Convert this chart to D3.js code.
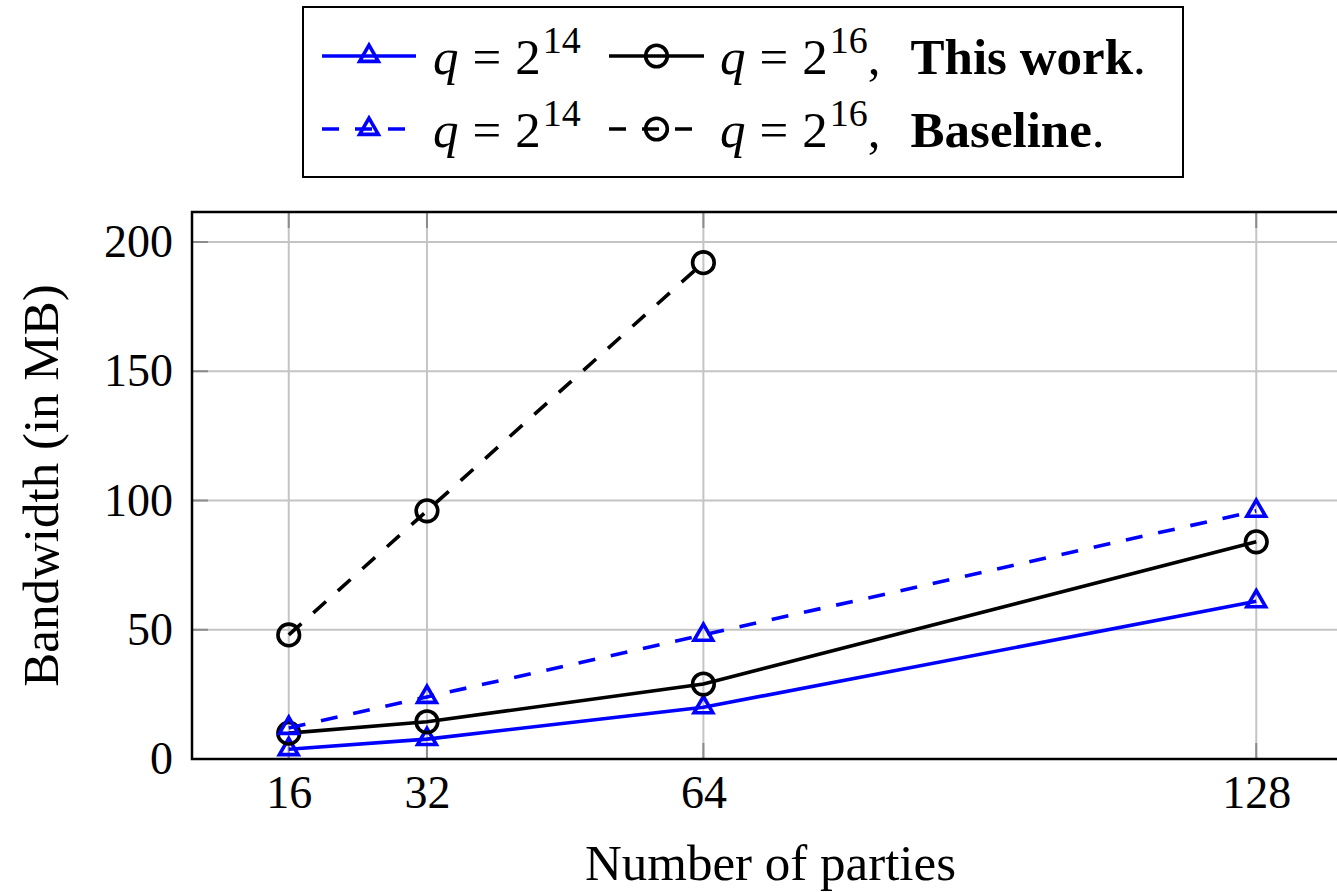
<!DOCTYPE html>
<html>
<head>
<meta charset="utf-8">
<script src="https://cdn.jsdelivr.net/npm/d3@7"></script>
<style>
  html, body { margin: 0; padding: 0; background: #fff; }
  svg { display: block; }
</style>
</head>
<body>
<svg id="chart" width="1337" height="892"></svg>
<script>
// Number of parties on the x axis
const parties = [16, 32, 64, 128];
const xTicks = [16, 32, 64, 128];
const yTicks = [0, 50, 100, 150, 200];

// Bandwidth in MB
const thisWorkQ14 = [3.8, 7.7, 20, 61];
const thisWorkQ16 = [10, 14.4, 29, 84];
const baselineQ14 = [12, 24, 48, 96];
const baselineQ16 = [48, 96, 192];

const BLUE = "#0000ff";
const BLACK = "#000000";
const SERIF = "'Liberation Serif', 'Times New Roman', serif";

const series = [
  { values: thisWorkQ14, color: BLUE,  dashed: false, mark: "triangle" },
  { values: thisWorkQ16, color: BLACK, dashed: false, mark: "circle" },
  { values: baselineQ14, color: BLUE,  dashed: true,  mark: "triangle" },
  { values: baselineQ16, color: BLACK, dashed: true,  mark: "circle" }
];

const svg = d3.select("#chart");

const plot = { left: 192, top: 212, bottom: 759, right: 1353 };

const x = d3.scaleLinear().domain([4.8, 139.2]).range([plot.left, plot.right]);
const y = d3.scaleLinear().domain([0, 211.6]).range([plot.bottom, plot.top]);

const LW = 3.6;
const MARK_R = 10.8;
const DASH = "17,16";

// Grid
const grid = svg.append("g");
grid.selectAll("line.gx").data(xTicks).join("line")
  .attr("x1", d => x(d)).attr("x2", d => x(d))
  .attr("y1", plot.top).attr("y2", plot.bottom)
  .attr("stroke", "#c4c4c4").attr("stroke-width", 2);
grid.selectAll("line.gy").data(yTicks).join("line")
  .attr("x1", plot.left).attr("x2", plot.right)
  .attr("y1", d => y(d)).attr("y2", d => y(d))
  .attr("stroke", "#c4c4c4").attr("stroke-width", 2);

// Inner tick marks
const ticks = svg.append("g").attr("stroke", "#8c8c8c").attr("stroke-width", 2);
ticks.selectAll("line.ty").data(yTicks).join("line")
  .attr("x1", plot.left).attr("x2", plot.left + 16)
  .attr("y1", d => y(d)).attr("y2", d => y(d));
ticks.selectAll("line.txt").data(xTicks).join("line")
  .attr("x1", d => x(d)).attr("x2", d => x(d))
  .attr("y1", plot.top).attr("y2", plot.top + 16);
ticks.selectAll("line.txb").data(xTicks).join("line")
  .attr("x1", d => x(d)).attr("x2", d => x(d))
  .attr("y1", plot.bottom).attr("y2", plot.bottom - 16);

// Axes via d3 (labels only, lines drawn as frame)
const xAxis = d3.axisBottom(x).tickValues(xTicks).tickSize(0).tickPadding(0).tickFormat(d3.format("d"));
const gx = svg.append("g").attr("transform", `translate(0,${plot.bottom})`).call(xAxis);
gx.select(".domain").remove();
gx.selectAll("text").attr("font-size", 46).attr("fill", "#000")
  .style("font-family", SERIF).attr("dy", null).attr("y", 49);

const yAxis = d3.axisLeft(y).tickValues(yTicks).tickSize(0).tickPadding(0).tickFormat(d3.format("d"));
const gy = svg.append("g").attr("transform", `translate(${plot.left},0)`).call(yAxis);
gy.select(".domain").remove();
gy.selectAll("text").attr("font-size", 46).attr("fill", "#000")
  .style("font-family", SERIF).attr("x", -19).attr("dy", "0.32em");

// Frame
svg.append("rect")
  .attr("x", plot.left).attr("y", plot.top)
  .attr("width", plot.right - plot.left).attr("height", plot.bottom - plot.top)
  .attr("fill", "none").attr("stroke", "#000").attr("stroke-width", 2.5);

// Markers
function trianglePath(cx, cy, r) {
  const h = r * Math.sqrt(3) / 2;
  return `M${cx},${cy - r}L${cx + h},${cy + r / 2}L${cx - h},${cy + r / 2}Z`;
}
function drawMark(g, kind, cx, cy, color) {
  if (kind === "circle") {
    g.append("circle").attr("cx", cx).attr("cy", cy).attr("r", MARK_R)
      .attr("fill", "none").attr("stroke", color).attr("stroke-width", LW);
  } else {
    g.append("path").attr("d", trianglePath(cx, cy, MARK_R))
      .attr("fill", "none").attr("stroke", color).attr("stroke-width", LW)
      .attr("stroke-linejoin", "miter");
  }
}

// Data lines
const line = d3.line().x(d => x(d[0])).y(d => y(d[1]));
const dataG = svg.append("g");
series.forEach(s => {
  const pts = s.values.map((v, i) => [parties[i], v]);
  const g = dataG.append("g");
  g.append("path").attr("d", line(pts))
    .attr("fill", "none").attr("stroke", s.color).attr("stroke-width", LW)
    .attr("stroke-dasharray", s.dashed ? DASH : null);
  pts.forEach(p => drawMark(g, s.mark, x(p[0]), y(p[1]), s.color));
});

// Axis titles
svg.append("text").attr("x", (plot.left + 1337) / 2 + 6).attr("y", 880)
  .attr("text-anchor", "middle").attr("font-size", 51).style("font-family", SERIF)
  .text("Number of parties");
svg.append("text").attr("transform", `translate(58,${(plot.top + plot.bottom) / 2}) rotate(-90)`)
  .attr("text-anchor", "middle").attr("font-size", 51).style("font-family", SERIF)
  .text("Bandwidth (in MB)");

// Legend
const legend = svg.append("g");
legend.append("rect").attr("x", 303).attr("y", 7).attr("width", 880).attr("height", 170)
  .attr("fill", "#fff").attr("stroke", "#000").attr("stroke-width", 2);

const legendRows = [
  { y: 56, dashed: false, label: "This work" },
  { y: 129, dashed: true, label: "Baseline" }
];
const legendCols = [
  { x0: 322, x1: 416, color: BLUE, mark: "triangle", tx: 433, exp: "14", tail: false },
  { x0: 609, x1: 704, color: BLACK, mark: "circle", tx: 720, exp: "16", tail: true }
];

legendRows.forEach(row => {
  legendCols.forEach(col => {
    legend.append("line")
      .attr("x1", col.x0).attr("x2", col.x1).attr("y1", row.y).attr("y2", row.y)
      .attr("stroke", col.color).attr("stroke-width", LW)
      .attr("stroke-dasharray", row.dashed ? DASH : null);
    drawMark(legend, col.mark, (col.x0 + col.x1) / 2, row.y, col.color);

    const t = legend.append("text").attr("x", col.tx).attr("y", row.y + 18)
      .attr("font-size", 51).style("font-family", SERIF);
    const span = () => t.append("tspan").style("font-family", SERIF);
    span().style("font-style", "italic").text("q");
    span().attr("dx", 14).text("=");
    span().attr("dx", 14).text("2");
    span().attr("font-size", 38).attr("dy", -21).attr("dx", 2).text(col.exp);
    if (col.tail) {
      span().attr("dy", 21).text(",");
      span().attr("dx", 30).style("font-weight", "bold").text(row.label);
      span().text(".");
    }
  });
});
</script>
</body>
</html>
